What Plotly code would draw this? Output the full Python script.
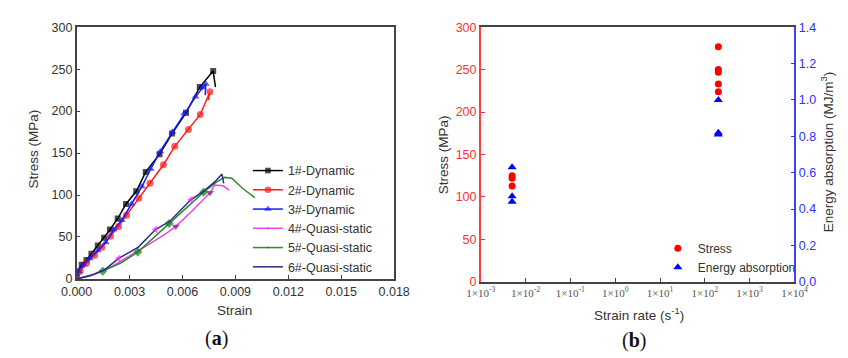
import plotly.graph_objects as go

W, H = 848, 358

# ---------- (a) stress-strain data ----------
s1_x = [0, 0.00005, 0.00029, 0.00056, 0.00084, 0.0012, 0.00156, 0.00189, 0.00233, 0.0028, 0.00338,
        0.00392, 0.0047, 0.00541, 0.0062, 0.00698, 0.00774, 0.00787]
s1_y = [3, 9, 16.8, 22.5, 30, 39.7, 49.2, 58.8, 72, 89.3, 104.5, 127.5, 148.5, 173.3, 198, 228.6, 247.7, 228.6]

s2_x = [0, 0.0002, 0.00056, 0.00102, 0.00143, 0.00192, 0.00238, 0.00283, 0.00353, 0.00416, 0.00492,
        0.00556, 0.00634, 0.00701, 0.00756, 0.00747]
s2_y = [2, 9.2, 18.7, 28.3, 37.8, 51, 62.6, 76, 96, 114, 136, 158, 178, 196, 223, 213]

s3_x = [0, 0.0001, 0.00038, 0.00075, 0.0012, 0.00165, 0.00211, 0.00256, 0.00311, 0.0037, 0.0042,
        0.00474, 0.00543, 0.0061, 0.00674, 0.00715, 0.00732, 0.00729]
s3_y = [5, 9.2, 16.8, 24.4, 34, 43.5, 58.8, 70, 89.3, 110, 131, 152, 175, 197, 217, 228, 232.4, 219]

s4_x = [0, 0.001, 0.002, 0.003, 0.004, 0.005, 0.00562, 0.0065, 0.00756, 0.00783, 0.0083, 0.00865]
s4_y = [0, 6, 15, 27, 40, 53, 62.6, 80, 102.7, 112, 111, 105.7]

s5_x = [0, 0.0008, 0.00148, 0.0025, 0.00347, 0.0043, 0.00524, 0.0062, 0.0072, 0.0079, 0.00838,
        0.0088, 0.0094, 0.0101]
s5_y = [0, 4, 9.3, 19, 32, 48, 66, 85, 103.4, 115, 121, 120, 108, 97]

s6_x = [0, 0.0008, 0.0016, 0.00238, 0.0035, 0.00447, 0.0053, 0.00647, 0.0071, 0.0078, 0.00824, 0.00834]
s6_y = [0, 4, 11, 24.4, 38, 58.8, 69, 94.3, 103, 115, 125, 114]

# which points carry a marker (1) or not (0)
s1_m = [1] * 17 + [0]
s2_m = [1] * 15 + [0]
s3_m = [1] * 17 + [0]
s4_m = [0, 0, 0, 0, 0, 0, 1, 0, 1, 0, 0, 0]
s5_m = [0, 0, 1, 0, 1, 0, 1, 0, 1, 0, 0, 0, 0, 0]
s6_m = [0, 0, 0, 1, 0, 1, 0, 1, 0, 0, 0, 0]

names_a = ["1#-Dynamic", "2#-Dynamic", "3#-Dynamic", "4#-Quasi-static", "5#-Quasi-static", "6#-Quasi-static"]

# ---------- (b) strain-rate data ----------
rate_qs = 0.005
rate_dyn = 200
stress_qs = [125, 122, 113]
stress_dyn = [277, 250, 247, 233, 224]
energy_qs = [0.63, 0.47, 0.44]
energy_dyn = [1.0, 0.82, 0.81]

xt_vals = [1e-3, 1e-2, 1e-1, 1e0, 1e1, 1e2, 1e3, 1e4]
xt_text = ["1×10<sup>-3</sup>", "1×10<sup>-2</sup>", "1×10<sup>-1</sup>", "1×10<sup>0</sup>",
           "1×10<sup>1</sup>", "1×10<sup>2</sup>", "1×10<sup>3</sup>", "1×10<sup>4</sup>"]

fig = go.Figure()

styles = [
    (s1_x, s1_y, s1_m, "#000000", "#000000", "square", 6),
    (s2_x, s2_y, s2_m, "#ff1a1a", "#ff1a1a", "circle", 7),
    (s3_x, s3_y, s3_m, "#1a1aff", "#1a1aff", "triangle-up", 7),
    (s4_x, s4_y, s4_m, "#ee44ee", "#7a1a7a", "triangle-down", 7),
    (s5_x, s5_y, s5_m, "#2e8b2e", "#1a7a1a", "diamond", 7),
    (s6_x, s6_y, s6_m, "#2a2a8a", "#ff22ff", "triangle-left", 7),
]
for (xs, ys, ms, lc, mc, sym, sz), nm in zip(styles, names_a):
    fig.add_trace(go.Scatter(
        x=xs, y=ys, mode="lines+markers", name=nm, legend="legend",
        line=dict(color=lc, width=1.5),
        marker=dict(color=mc, symbol=sym, size=[sz if m else 0 for m in ms],
                    line=dict(width=0)),
        xaxis="x", yaxis="y"))

fig.add_trace(go.Scatter(
    x=[rate_qs] * len(stress_qs) + [rate_dyn] * len(stress_dyn),
    y=stress_qs + stress_dyn, mode="markers", name="Stress", legend="legend2",
    marker=dict(color="#ff0000", symbol="circle", size=7), xaxis="x2", yaxis="y3"))
fig.add_trace(go.Scatter(
    x=[rate_qs] * len(energy_qs) + [rate_dyn] * len(energy_dyn),
    y=energy_qs + energy_dyn, mode="markers", name="Energy absorption", legend="legend2",
    marker=dict(color="#0000ff", symbol="triangle-up", size=8), xaxis="x2", yaxis="y4"))

tickfont = dict(family="Liberation Sans, Arial", size=12.5, color="#333333")
axcol = "#444444"

def px2x(p):
    return p / W

def px2y(p):
    return 1 - p / H

fig.update_layout(
    width=W, height=H, margin=dict(l=0, r=0, t=0, b=0),
    paper_bgcolor="white", plot_bgcolor="white",
    font=dict(family="Liberation Sans, Arial", size=12, color="#333333"),
    xaxis=dict(domain=[63 / W, 393 / W], range=[0, 0.018], tickvals=[0, 0.003, 0.006, 0.009, 0.012, 0.015, 0.018],
               tickformat=".3f", ticks="inside", ticklen=4, tickcolor=axcol, showline=True, linecolor=axcol,
               linewidth=1.5, mirror=True, showgrid=False, zeroline=False, tickfont=tickfont, anchor="y"),
    yaxis=dict(domain=[px2y(283), px2y(21)], range=[0, 300], dtick=50, ticks="inside", ticklen=4,
               tickcolor=axcol, showline=True, linecolor=axcol, linewidth=1.5, mirror=True,
               showgrid=False, zeroline=False, tickfont=tickfont, anchor="x"),
    xaxis2=dict(domain=[483 / W, 809 / W], type="log", range=[-3, 4], tickvals=xt_vals, ticktext=xt_text,
                ticks="inside", ticklen=4, tickcolor=axcol, showline=True, linecolor=axcol, linewidth=1.5,
                mirror=True, showgrid=False, zeroline=False,
                tickfont=dict(family="Liberation Serif, Times New Roman", size=11, color="#555555"),
                anchor="y3"),
    yaxis3=dict(domain=[px2y(286), px2y(21)], range=[0, 300], dtick=50, ticks="inside", ticklen=4,
                tickcolor="#ff3030", showline=True, linecolor="#ff4040", linewidth=1.5, showgrid=False,
                zeroline=False, tickfont=dict(family="Liberation Sans, Arial", size=12.5, color="#ff3030"),
                anchor="x2"),
    yaxis4=dict(domain=[px2y(286), px2y(21)], range=[0, 1.4], dtick=0.2, tickformat=".1f", ticks="inside",
                ticklen=4, tickcolor="#3030ff", showline=True, linecolor="#4040ff", linewidth=1.5,
                showgrid=False, zeroline=False, side="right", overlaying="y3", anchor="x2",
                tickfont=dict(family="Liberation Sans, Arial", size=12.5, color="#3030ff")),
    legend=dict(x=px2x(241), y=px2y(155), xanchor="left", yanchor="top", bgcolor="rgba(0,0,0,0)",
                font=dict(family="Liberation Sans, Arial", size=12.5, color="#333333"),
                tracegroupgap=0, itemwidth=30),
    legend2=dict(x=px2x(667), y=px2y(236), xanchor="left", yanchor="top", bgcolor="rgba(0,0,0,0)",
                 font=dict(family="Liberation Sans, Arial", size=12, color="#333333"), itemwidth=30),
    showlegend=True,
)

ann = [
    dict(text="Stress (MPa)", x=px2x(18), y=px2y(148), textangle=-90, size=13.5),
    dict(text="Strain", x=px2x(227), y=px2y(316), textangle=0, size=13.5),
    dict(text="Stress (MPa)", x=px2x(445), y=px2y(154), textangle=-90, size=13.5),
    dict(text="Strain rate (s<sup>-1</sup>)", x=px2x(647), y=px2y(319), textangle=0, size=13.5),
    dict(text="Energy absorption (MJ/m<sup>3</sup>)", x=px2x(843), y=px2y(151), textangle=-90, size=13.5),
]
for a in ann:
    fig.add_annotation(text=a["text"], x=a["x"], y=a["y"], xref="paper", yref="paper", showarrow=False,
                       textangle=a["textangle"], xanchor="center", yanchor="middle",
                       font=dict(family="Liberation Sans, Arial", size=a["size"], color="#333333"))
for t, xp, yp in [("(<b>a</b>)", 208, 345), ("(<b>b</b>)", 642, 347)]:
    fig.add_annotation(text=t, x=px2x(xp), y=px2y(yp), xref="paper", yref="paper", showarrow=False,
                       xanchor="center", yanchor="middle",
                       font=dict(family="Liberation Serif, Times New Roman", size=20, color="#111111"))

fig.write_html("out.html")
